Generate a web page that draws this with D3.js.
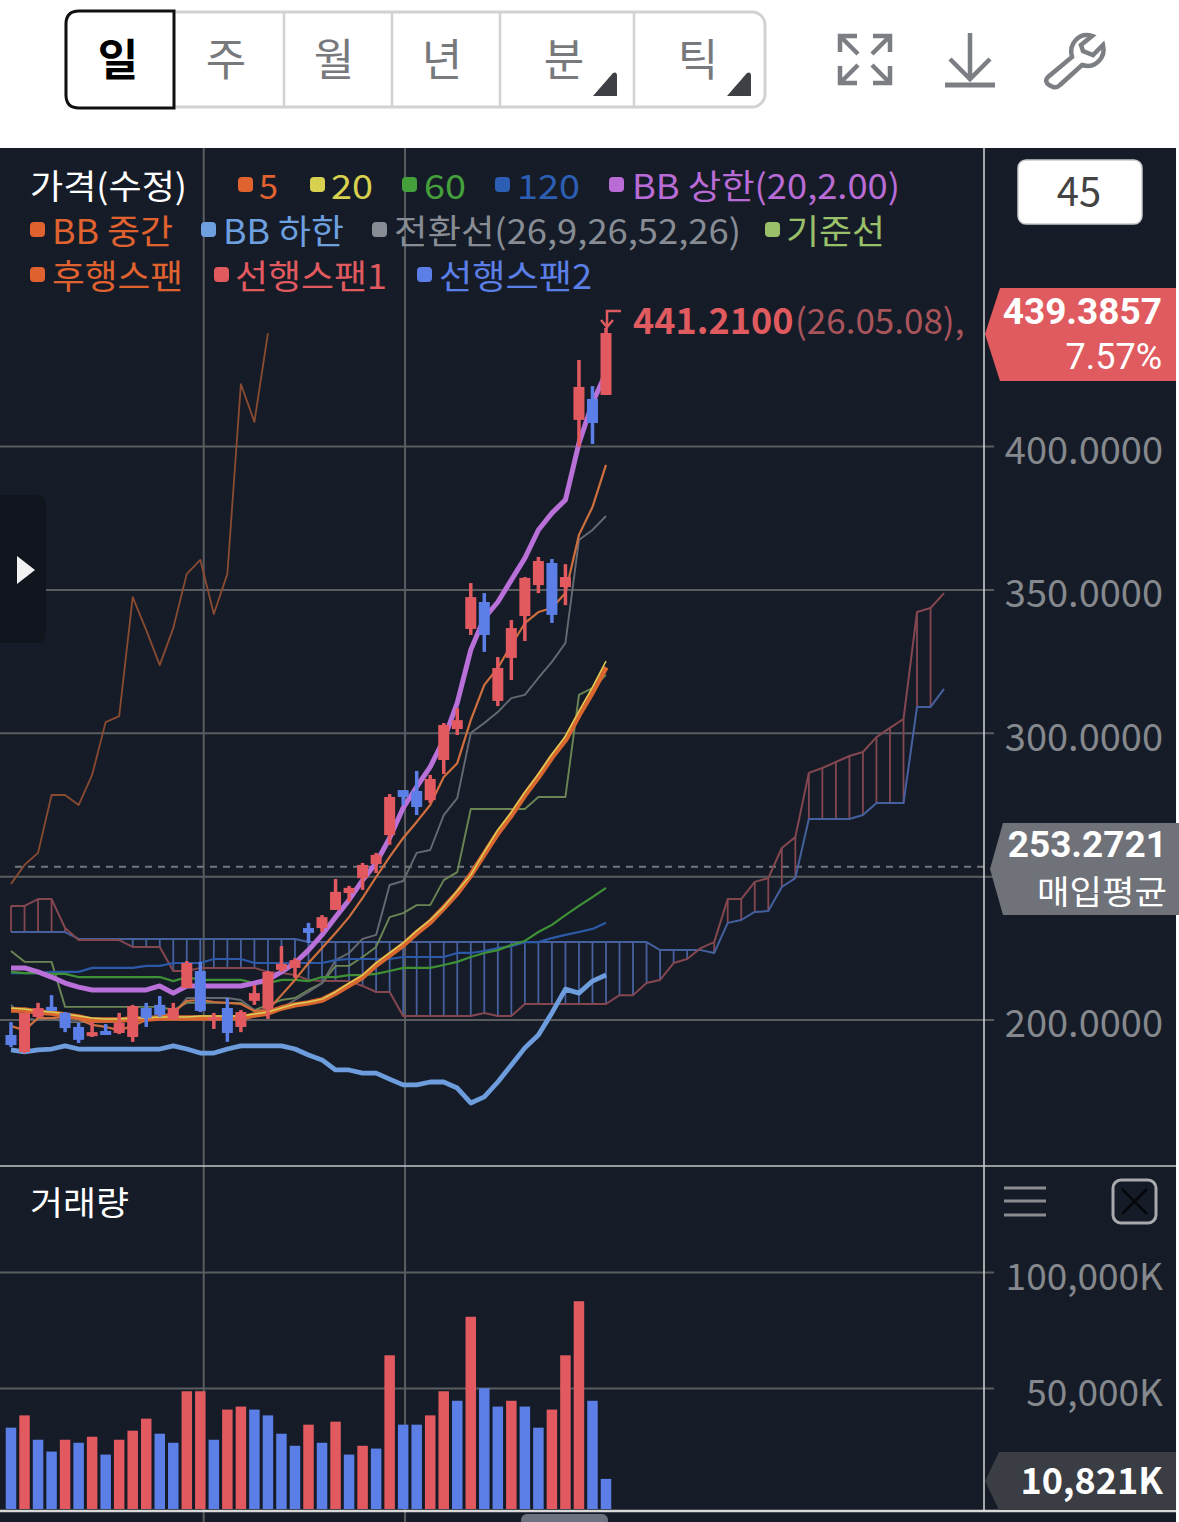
<!DOCTYPE html>
<html>
<head>
<meta charset="utf-8">
<script src="https://cdn.jsdelivr.net/npm/d3@7"></script>
<style>
html, body { margin: 0; padding: 0; background: #fff; }
svg { display: block; }
text { font-family: "Noto Sans CJK KR", "Noto Sans", sans-serif; }
text.digits { font-family: Roboto, sans-serif; }
</style>
</head>
<body>
<div id="chart"></div>
<script>
// price candles, one per day
const opens = [194.6,188.7,200.9,204.4,202.3,197.4,194.2,196.0,195.3,193.9,204.0,205.1,200.2,211.0,216.9,199.8,204.0,197.4,206.5,203.7,217.3,218.0,231.9,231.9,238.2,244.1,249.3,254.2,264.3,280.0,279.7,276.5,290.5,301.3,336.2,345.6,311.1,326.1,340.7,351.5,359.2,350.8,409.1,416.4,417.8]
const highs = [199.1,202.3,205.8,208.5,202.6,198.8,199.1,198.4,202.3,205.1,205.8,208.2,205.8,220.4,220.1,202.3,207.5,203.3,212.0,216.9,225.6,221.4,233.7,236.4,249.0,246.6,254.6,258.1,278.6,280.0,286.7,285.3,303.4,308.6,352.2,348.7,326.4,339.3,354.3,361.3,360.6,358.8,430.0,420.9,441.21]
const lows = [190.4,188.3,200.5,203.0,195.6,191.8,193.9,194.6,194.9,192.2,197.4,200.9,199.8,211.0,202.6,196.7,192.2,195.6,205.1,200.2,216.6,214.5,226.7,230.5,238.2,241.0,245.2,251.1,260.9,274.8,271.3,275.5,285.6,299.2,334.1,328.2,309.3,318.4,332.0,348.7,338.3,344.5,399.7,400.7,417.8]
const closes = [191.1,202.3,204.0,203.0,197.0,192.9,195.6,194.6,198.8,204.7,200.5,201.6,204.0,219.7,203.0,200.9,195.3,202.6,209.2,216.6,219.4,220.7,230.2,235.7,244.5,245.9,253.9,257.4,277.6,277.6,274.1,283.9,302.7,304.4,347.3,334.1,322.6,336.5,354.0,359.9,341.1,354.3,420.6,408.0,439.39]

// moving averages and bollinger band
const ma5 = [197.7,196.3,200.5,200.5,200.9,200.2,198.1,197.4,196.3,197.7,199.8,200.9,202.3,206.5,206.8,206.1,205.8,205.4,203.0,203.3,208.5,213.8,219.7,224.9,230.2,235.7,242.4,249.7,256.7,263.3,268.9,274.8,284.6,289.4,304.4,316.7,322.6,330.6,338.2,342.1,343.5,348.7,369.0,378.7,393.4]
const ma20 = [204.0,203.7,203.0,202.6,201.9,201.2,200.5,200.2,200.2,200.5,200.5,200.9,200.9,200.9,201.2,201.2,201.2,201.2,201.9,202.6,204.0,205.4,206.1,207.1,209.6,212.7,215.5,219.7,223.2,226.7,230.9,234.7,239.2,244.8,250.4,258.4,266.1,272.3,279.3,285.6,292.5,298.8,307.5,315.9,325.0]
const ma60 = [216.6,216.2,216.2,215.9,215.9,214.8,214.8,214.8,214.8,214.8,214.8,214.8,213.4,214.8,213.8,213.8,213.8,213.8,212.7,212.7,213.8,213.8,213.4,214.8,214.8,215.5,215.5,215.9,216.9,218.0,218.0,218.0,219.0,220.1,221.8,223.2,224.2,226.0,227.4,230.5,233.0,236.4,239.6,242.7,245.9]
const ma120 = [216.2,216.2,216.2,216.6,216.6,216.6,218.0,218.0,218.0,218.0,218.7,218.7,219.7,219.7,219.7,221.1,221.1,221.1,219.7,219.7,219.7,219.7,219.7,219.7,220.7,221.1,221.1,221.1,221.1,221.8,221.8,221.8,221.8,223.2,223.2,223.9,224.9,225.6,227.0,227.0,228.4,229.5,230.5,231.6,233.7]
const bbUpper = [218.0,218.0,216.6,214.8,212.7,211.3,210.3,210.3,210.3,210.3,210.3,211.7,209.2,211.7,211.7,211.7,211.7,211.7,212.7,213.8,216.6,219.7,224.2,229.5,235.7,241.7,248.6,254.6,263.3,273.8,281.1,288.1,297.5,310.4,328.9,340.0,345.6,353.3,360.9,370.7,376.6,381.2,401.0,415.0,425.5]
const bbMiddle = [203.3,203.3,202.6,202.3,201.6,200.9,199.8,199.8,199.8,200.2,200.2,200.5,200.5,200.5,200.5,200.5,200.5,200.5,201.6,202.3,204.0,205.1,205.8,206.8,209.2,212.0,214.8,219.0,222.5,226.0,230.2,234.0,238.9,244.1,250.4,257.7,265.0,271.3,278.3,284.6,291.5,297.5,306.2,314.2,322.9]
const bbLower = [189.4,188.7,189.4,189.7,190.8,189.7,189.7,189.7,189.7,189.7,189.7,189.7,190.8,189.7,188.3,188.3,189.7,190.8,190.8,190.8,190.8,189.7,187.6,185.9,182.4,182.4,181.3,181.3,179.2,177.2,177.2,178.2,178.2,176.1,170.9,173.0,178.2,184.1,190.1,194.6,202.3,210.6,209.2,213.4,215.5]

// ichimoku, spans run 25 days ahead and the lagging line stops 25 days short
const conversion = [205.1,200.5,199.8,200.5,199.1,199.1,199.1,199.1,199.1,199.8,200.9,201.2,201.9,207.5,207.5,207.5,207.5,206.8,203.3,202.6,204.0,206.8,209.6,212.7,220.7,223.2,228.1,229.5,246.9,248.3,258.1,259.1,271.3,277.2,299.9,303.4,307.2,312.1,313.2,319.1,324.7,331.3,367.2,370.7,375.6]
const base = [223.9,220.1,220.1,220.1,204.4,204.4,204.4,204.4,204.4,204.4,204.4,204.4,203.3,205.8,205.8,205.8,205.8,205.8,203.3,205.1,206.8,207.5,210.3,212.7,218.7,218.7,221.8,225.3,235.7,237.1,239.9,239.9,248.6,251.4,273.4,273.4,273.4,273.4,273.4,277.6,277.6,277.6,313.2,315.6,320.2]
const lagging = [247.3,253.9,258.1,278.3,278.3,274.8,285.3,303.7,305.8,347.3,335.8,323.6,336.5,355.4,360.3,341.4,355.4,421.6,408.4,439.4]
const leadA = [239.6,239.6,242.0,242.0,231.9,227.7,227.7,227.7,227.7,225.3,225.3,225.3,216.9,216.9,218.0,218.0,218.0,218.0,218.0,216.6,216.2,215.5,213.8,213.4,213.4,213.4,211.7,209.6,209.6,201.2,201.2,201.2,201.2,201.2,201.2,202.3,201.2,201.2,205.4,205.4,205.4,205.4,205.4,205.4,205.4,208.5,208.5,212.7,213.8,219.7,221.1,224.9,227.0,242.0,242.0,248.0,249.3,259.8,263.6,286.0,287.7,289.8,291.9,293.3,298.5,301.7,304.8,342.1,343.5,348.7]
const leadB = [230.5,230.5,230.5,230.5,230.5,228.1,228.1,228.1,228.1,228.1,228.1,228.1,228.1,228.1,228.1,228.1,228.1,228.1,228.1,228.1,228.1,228.1,227.0,227.0,227.0,227.0,227.0,227.0,227.0,227.0,227.0,227.0,227.0,227.0,227.0,227.0,227.0,227.0,227.0,227.0,227.0,227.0,227.0,227.0,227.0,227.0,227.0,227.0,224.2,224.2,224.2,224.2,223.2,233.7,234.7,237.5,237.8,246.2,249.3,269.9,269.9,269.9,269.9,271.3,275.5,275.5,275.5,309.0,309.0,315.3]

// volume in K, with its own up/down flag because the bars don't always follow the candle
const volumes = [32900,38200,27700,22600,27700,26400,29000,21300,27700,31600,36800,30300,26400,48600,48600,27700,40700,42000,40700,38200,30300,25100,34200,26400,35500,21300,25100,23900,64100,34200,34200,38200,48600,44500,80700,49900,42000,44500,42000,32900,40700,64100,87400,44500,10821]
const volumeUp = [0,1,0,0,1,0,1,0,1,1,1,0,0,1,1,0,1,1,0,0,0,0,1,0,1,0,1,0,1,0,0,1,1,0,1,0,0,1,0,0,1,1,1,0,0]

const priceTicks = [200, 250, 300, 350, 400]
const volumeTicks = [50000, 100000]
const monthBreaks = [14.25, 29.14] // vertical grid, in candle index
const avgPrice = 253.2721
const lastPrice = 439.3857
const lastChange = '7.57%'
const topPrice = 441.21
const topDate = '(26.05.08), 0'
const lastVolume = '10,821K'
const periods = ['일', '주', '월', '년', '분', '틱']

const width = 1179
const height = 1522
const paneRight = 1176
const axisX = 984
const BG = '#151c28'
const GRID = '#5a5c5f'
const UP = '#e25a5f'
const DOWN = '#5b7fe6'
const AXIS_TEXT = '#85888c'

const svg = d3.select('#chart').append('svg')
    .attr('width', width)
    .attr('height', height)
    .attr('viewBox', `0 0 ${width} ${height}`)

const x = d3.scaleLinear().domain([0, 44]).range([11, 606])
const yPrice = d3.scaleLinear().domain([200, 400]).range([1019.5, 446])
// the pane floor sits a few px below zero, bars run down to it
const yVol = d3.scaleLinear().domain([-2150, 100000]).range([1509, 1272])
const barW = 11

// ---------- toolbar ----------
const cells = [[66, 174], [174, 284], [284, 392], [392, 500], [500, 634], [634, 765]]
const toolbar = svg.append('g')
toolbar.append('rect')
    .attr('x', 66).attr('y', 12).attr('width', 699).attr('height', 95).attr('rx', 13)
    .attr('fill', '#fff').attr('stroke', '#d2d2d2').attr('stroke-width', 3)
cells.slice(2).forEach(c => {
    toolbar.append('line').attr('x1', c[0]).attr('x2', c[0]).attr('y1', 13).attr('y2', 106)
        .attr('stroke', '#d2d2d2').attr('stroke-width', 2.5)
})
toolbar.append('path')
    .attr('d', 'M174,11 H79 Q66,11 66,24 V95 Q66,108 79,108 H174 Z')
    .attr('fill', '#fff').attr('stroke', '#111').attr('stroke-width', 3)
toolbar.selectAll('text.period')
    .data(periods)
    .join('text')
    .attr('class', 'period')
    .attr('x', (d, i) => i === 0 ? 118 : i === 1 ? 226 : i === 2 ? 334 : i === 3 ? 442 : i === 4 ? 564 : 698)
    .attr('y', 76)
    .attr('text-anchor', 'middle')
    .attr('font-size', 44)
    .attr('font-weight', (d, i) => i === 0 ? 700 : 400)
    .attr('fill', (d, i) => i === 0 ? '#000' : '#77797c')
    .text(d => d)
toolbar.append('path').attr('d', 'M593,96 L613,73 Q617,71 617,76 V96 Z').attr('fill', '#3e4045')
toolbar.append('path').attr('d', 'M727,96 L747,73 Q751,71 751,76 V96 Z').attr('fill', '#3e4045')

const icons = svg.append('g').attr('fill', 'none').attr('stroke', '#7b7e83').attr('stroke-width', 4.5)
icons.append('path').attr('d', 'M840,52 V36 H857 M840,36 L858,54 M890,52 V36 H873 M890,36 L872,54 M840,66 V83 H857 M840,83 L858,65 M890,66 V83 H873 M890,83 L872,65')
icons.append('path').attr('d', 'M970,33 V79 M950,59 L970,79 L990,59')
icons.append('path').attr('d', 'M945,85 H995').attr('stroke-width', 5)
icons.append('path').attr('d', 'M1092,36 C1080,32 1068,43 1072,57 L1048,77 C1045,80 1046,83 1049,85 L1053,87 C1056,88 1058,87 1060,85 L1082,65 C1095,69 1106,58 1103,45 L1093,55 L1083,51 L1081,45 Z')

// ---------- panes ----------
svg.append('rect').attr('x', 0).attr('y', 148).attr('width', paneRight).attr('height', height - 148).attr('fill', BG)

svg.append('g').selectAll('line')
    .data(monthBreaks)
    .join('line')
    .attr('x1', d => x(d)).attr('x2', d => x(d))
    .attr('y1', 148).attr('y2', height)
    .attr('stroke', GRID).attr('stroke-width', 2)

const priceAxis = svg.append('g')
    .attr('transform', `translate(${axisX},0)`)
    .call(d3.axisRight(yPrice).tickValues(priceTicks).tickFormat(d => d === 250 ? '' : d3.format('.4f')(d)))
const volAxis = svg.append('g')
    .attr('transform', `translate(${axisX},0)`)
    .call(d3.axisRight(yVol).tickValues(volumeTicks).tickFormat(d => d3.format(',')(d) + 'K'))
;[priceAxis, volAxis].forEach(a => {
    a.select('.domain').remove()
    a.selectAll('.tick line').attr('x1', -axisX).attr('x2', 10).attr('stroke', GRID).attr('stroke-width', 2)
    a.selectAll('.tick text')
        .attr('x', 179).attr('dy', '0.46em')
        .attr('text-anchor', 'end').attr('font-size', a === priceAxis ? 38 : 37)
        .attr('fill', AXIS_TEXT)
})

svg.append('line')
    .attr('x1', 15).attr('x2', axisX).attr('y1', yPrice(avgPrice)).attr('y2', yPrice(avgPrice))
    .attr('stroke', '#74787e').attr('stroke-width', 2).attr('stroke-dasharray', '7 6')

// ---------- ichimoku cloud ----------
const lineOf = d3.line().x((d, i) => x(i)).y(d => yPrice(d))
const cloud = svg.append('g')
cloud.selectAll('line')
    .data(leadA.slice(0, -1))
    .join('line')
    .attr('x1', (d, i) => x(i)).attr('x2', (d, i) => x(i))
    .attr('y1', d => yPrice(d)).attr('y2', (d, i) => yPrice(leadB[i]))
    .attr('stroke', (d, i) => d >= leadB[i] ? '#84474f' : '#46609e')
    .attr('stroke-width', 1.8)

const drawLine = (data, color, w) => svg.append('path')
    .attr('d', lineOf(data))
    .attr('fill', 'none').attr('stroke', color).attr('stroke-width', w)
    .attr('stroke-linejoin', 'round')

drawLine(leadB, '#46609e', 2)
drawLine(leadA, '#84474f', 2)
drawLine(lagging, '#8a4b30', 1.8)
drawLine(base, '#6b8554', 1.9)
drawLine(conversion, '#666a70', 1.9)
drawLine(ma120, '#2d5aa8', 2.2)
drawLine(ma60, '#3f9136', 2.2)
drawLine(ma5, '#cf6f3e', 2.2)
drawLine(bbLower, '#6d9ddc', 4.8)
drawLine(bbUpper, '#b970d8', 5)
drawLine(bbMiddle, '#d9662f', 5.5)
drawLine(ma20, '#d8cf55', 1.5)

// ---------- candles ----------
const candles = svg.append('g').selectAll('g')
    .data(opens)
    .join('g')
    .attr('fill', (d, i) => closes[i] >= d ? UP : DOWN)
candles.append('rect')
    .attr('x', (d, i) => x(i) - 1.75)
    .attr('width', 3.5)
    .attr('y', (d, i) => yPrice(highs[i]))
    .attr('height', (d, i) => yPrice(lows[i]) - yPrice(highs[i]))
candles.append('rect')
    .attr('x', (d, i) => x(i) - barW / 2)
    .attr('width', barW)
    .attr('y', (d, i) => yPrice(Math.max(d, closes[i])))
    .attr('height', (d, i) => Math.abs(yPrice(d) - yPrice(closes[i])))

// ---------- volume ----------
svg.append('g').selectAll('rect')
    .data(volumes)
    .join('rect')
    .attr('x', (d, i) => x(i) - 5.25)
    .attr('width', 10.5)
    .attr('y', d => yVol(d))
    .attr('height', d => yVol.range()[0] - yVol(d))
    .attr('fill', (d, i) => volumeUp[i] ? UP : DOWN)

// ---------- frame lines ----------
svg.append('line').attr('x1', axisX).attr('x2', axisX).attr('y1', 148).attr('y2', 1511)
    .attr('stroke', '#d6d6d6').attr('stroke-width', 1.5)
svg.append('line').attr('x1', 0).attr('x2', paneRight).attr('y1', 1166).attr('y2', 1166)
    .attr('stroke', '#c4c6c8').attr('stroke-width', 1.5)
svg.append('line').attr('x1', 0).attr('x2', paneRight).attr('y1', 1511).attr('y2', 1511)
    .attr('stroke', '#d8d8d8').attr('stroke-width', 2.5)
svg.append('rect').attr('x', 521).attr('y', 1514).attr('width', 87).attr('height', 12).attr('rx', 6).attr('fill', '#6d7280')

// left drawer handle
svg.append('path').attr('d', 'M0,495 H36 Q46,495 46,505 V633 Q46,643 36,643 H0 Z').attr('fill', '#10151e')
svg.append('path').attr('d', 'M17,556 L35,570 L17,584 Z').attr('fill', '#f2f2f2')

// ---------- legend ----------
const legend = [
    {label: '가격(수정)', color: '#fff', tx: 30, tw: 157, row: 0},
    {label: '5', color: '#e0622f', mx: 238, tx: 259, tw: 19, row: 0},
    {label: '20', color: '#d8d04f', mx: 310, tx: 331, tw: 42, row: 0},
    {label: '60', color: '#45a03c', mx: 402, tx: 424, tw: 42, row: 0},
    {label: '120', color: '#2c5fb4', mx: 495, tx: 517, tw: 63, row: 0},
    {label: 'BB 상한(20,2.00)', color: '#b96bd6', mx: 609, tx: 632, tw: 268, row: 0},
    {label: 'BB 중간', color: '#e0622f', mx: 30, tx: 52, tw: 121, row: 1},
    {label: 'BB 하한', color: '#6ea0e0', mx: 201, tx: 223, tw: 121, row: 1},
    {label: '전환선(26,9,26,52,26)', color: '#888c94', mx: 372, tx: 394, tw: 347, row: 1},
    {label: '기준선', color: '#9ac06a', mx: 765, tx: 786, tw: 99, row: 1},
    {label: '후행스팬', color: '#e0622f', mx: 30, tx: 52, tw: 131, row: 2},
    {label: '선행스팬1', color: '#e05a5f', mx: 214, tx: 235, tw: 152, row: 2},
    {label: '선행스팬2', color: '#5b7fe6', mx: 417, tx: 439, tw: 153, row: 2}
]
const rowY = [186, 231, 276]
const legendG = svg.append('g')
legendG.selectAll('rect')
    .data(legend.filter(d => d.mx !== undefined))
    .join('rect')
    .attr('x', d => d.mx).attr('y', d => rowY[d.row] - 9)
    .attr('width', 15).attr('height', 15).attr('rx', 4)
    .attr('fill', d => d.color)
legendG.selectAll('text')
    .data(legend)
    .join('text')
    .attr('x', d => d.tx).attr('y', d => rowY[d.row] + 13)
    .attr('font-size', 34)
    .attr('fill', d => d.color)
    .attr('textLength', d => d.tw)
    .attr('lengthAdjust', 'spacingAndGlyphs')
    .text(d => d.label)

// ---------- right side tags ----------
svg.append('rect').attr('x', 1018).attr('y', 160).attr('width', 124).attr('height', 64).attr('rx', 8)
    .attr('fill', '#fff').attr('stroke', '#c9c9c9').attr('stroke-width', 1.5)
svg.append('text').attr('x', 1079).attr('y', 206).attr('text-anchor', 'middle')
    .attr('font-size', 40).attr('fill', '#444').text('45')

svg.append('path').attr('d', 'M1000,288 H1176 V381 H1000 L985,334 Z').attr('fill', '#e05b5f')
svg.append('text').attr('class', 'digits').attr('x', 1162).attr('y', 324).attr('text-anchor', 'end')
    .attr('font-size', 37).attr('font-weight', 700).attr('fill', '#fff').text(d3.format('.4f')(lastPrice))
svg.append('text').attr('class', 'digits').attr('x', 1162).attr('y', 369).attr('text-anchor', 'end')
    .attr('font-size', 36).attr('fill', '#fff').text(lastChange)

svg.append('path').attr('d', 'M1003,823 H1179 V915 H1003 L990,869 Z').attr('fill', '#6f7278')
svg.append('text').attr('class', 'digits').attr('x', 1167).attr('y', 857).attr('text-anchor', 'end')
    .attr('font-size', 37).attr('font-weight', 700).attr('fill', '#fff').text(d3.format('.4f')(avgPrice))
svg.append('text').attr('x', 1037).attr('y', 904)
    .attr('font-size', 33).attr('fill', '#fff')
    .attr('textLength', 130).attr('lengthAdjust', 'spacingAndGlyphs').text('매입평균')

svg.append('path').attr('d', 'M999,1452 H1176 V1510 H999 L985,1481 Z').attr('fill', '#3a3d43')
svg.append('text').attr('x', 1163).attr('y', 1494).attr('text-anchor', 'end')
    .attr('font-size', 36).attr('font-weight', 700).attr('fill', '#fff').text(lastVolume)

// ---------- high marker ----------
svg.append('clipPath').attr('id', 'plotClip').append('rect')
    .attr('x', 0).attr('y', 148).attr('width', 968).attr('height', 400)
const topMark = svg.append('g').attr('clip-path', 'url(#plotClip)')
topMark.append('text').attr('x', 633).attr('y', 334)
    .attr('font-size', 36).attr('font-weight', 700).attr('fill', '#e05b5f')
    .text(d3.format('.4f')(topPrice))
topMark.append('text').attr('x', 795).attr('y', 334)
    .attr('font-size', 35).attr('fill', '#a9545a')
    .text(topDate)
svg.append('path').attr('d', 'M621,311 H607 V326 M601,320 L607,327 L613,320')
    .attr('fill', 'none').attr('stroke', '#e05b5f').attr('stroke-width', 2.5)

// ---------- volume pane header ----------
svg.append('text').attr('x', 30).attr('y', 1215).attr('font-size', 33).attr('fill', '#fff')
    .attr('textLength', 99).attr('lengthAdjust', 'spacingAndGlyphs').text('거래량')
svg.append('path').attr('d', 'M1004,1188 H1046 M1004,1201 H1046 M1004,1215 H1046')
    .attr('stroke', '#8a8c90').attr('stroke-width', 3)
svg.append('rect').attr('x', 1113).attr('y', 1180).attr('width', 43).attr('height', 43).attr('rx', 8)
    .attr('fill', 'none').attr('stroke', '#a8aaae').attr('stroke-width', 3)
svg.append('path').attr('d', 'M1122,1189 L1147,1214 M1147,1189 L1122,1214')
    .attr('stroke', '#05070b').attr('stroke-width', 2.5)
</script>
</body>
</html>
